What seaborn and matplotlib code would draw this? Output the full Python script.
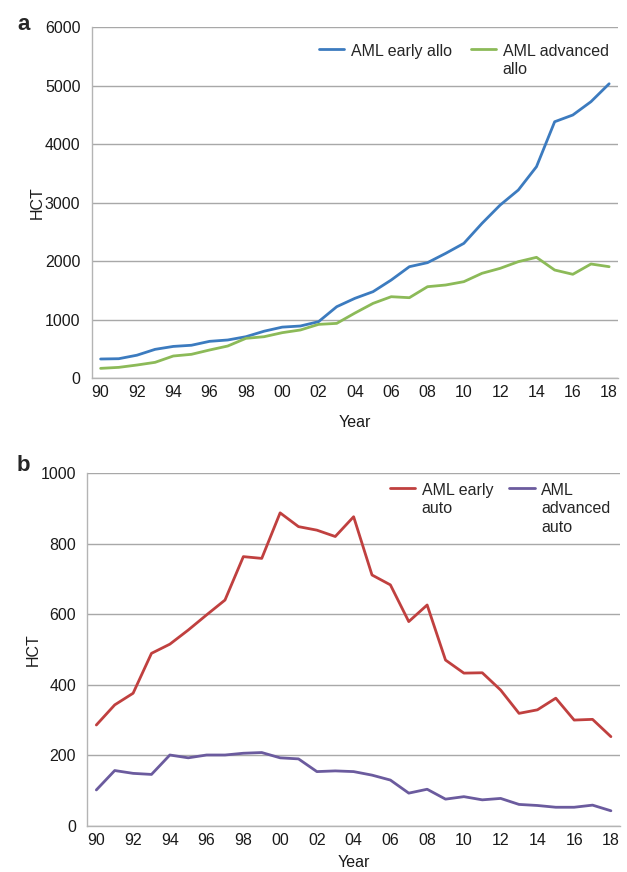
import pandas as pd
import matplotlib.pyplot as plt
import seaborn as sns
from matplotlib.ticker import FixedLocator

years = list(range(1990, 2019))
tick_years = list(range(1990, 2019, 2))
tick_labels = ['90', '92', '94', '96', '98', '00', '02', '04', '06', '08',
               '10', '12', '14', '16', '18']

# panel a - allogeneic
early_allo = [325, 330, 390, 490, 540, 560, 627, 650, 706, 800, 870, 889, 963, 1219,
              1362, 1476, 1675, 1903, 1972, 2131, 2302, 2644, 2957, 3214, 3613,
              4381, 4496, 4724, 5030]
advanced_allo = [165, 182, 222, 268, 376, 405, 479, 547, 678, 706, 775, 821, 917, 934,
                 1110, 1276, 1390, 1373, 1561, 1590, 1647, 1790, 1875, 1989, 2063,
                 1846, 1773, 1949, 1903]

# panel b - autologous
early_auto = [286, 343, 376, 489, 515, 555, 598, 640, 763, 758, 887, 848, 838, 820,
              876, 711, 683, 579, 626, 470, 433, 434, 385, 319, 329, 362, 300, 302, 253]
advanced_auto = [102, 157, 149, 146, 201, 193, 201, 201, 206, 208, 193, 190, 154, 156,
                 154, 144, 130, 93, 104, 76, 83, 74, 78, 61, 58, 53, 53, 59, 43]

sns.set_style('white')
plt.rcParams['font.family'] = ['Liberation Sans', 'DejaVu Sans']

fs = 11.5
fig = plt.figure(figsize=(6.27, 8.72), dpi=100)
ax1 = fig.add_axes([0.146, 0.5665, 0.840, 0.4025])
ax2 = fig.add_axes([0.139, 0.0528, 0.850, 0.4048])

grid_c = '#a8a8a8'
spine_c = '#b4b4b4'


def style_axis(ax, ymax, ystep):
    ax.set_xlim(1989.5, 2018.5)
    ax.set_ylim(0, ymax)
    ax.set_yticks(range(0, ymax + 1, ystep))
    ax.set_xticks(tick_years)
    ax.set_xticklabels(tick_labels)
    ax.xaxis.set_minor_locator(FixedLocator([y - 0.5 for y in years] + [2018.5]))
    ax.tick_params(axis='x', which='major', length=0, pad=5, labelsize=fs, colors='#1a1a1a')
    ax.tick_params(axis='x', which='minor', length=4, width=0.8, color=spine_c, direction='out')
    ax.tick_params(axis='y', length=4, width=0.8, color=spine_c, direction='out',
                   labelsize=fs, labelcolor='#1a1a1a', pad=4)
    ax.grid(axis='y', color=grid_c, linewidth=1)
    ax.grid(axis='x', visible=False)
    for side in ['top', 'right']:
        ax.spines[side].set_visible(False)
    for side in ['left', 'bottom']:
        ax.spines[side].set_color(spine_c)
        ax.spines[side].set_linewidth(1)
    ax.set_ylabel('HCT', fontsize=fs, color='#1a1a1a')
    ax.set_xlabel('Year', fontsize=fs, color='#1a1a1a')


def top_legend(ax, colspace, anchor_y):
    leg = ax.legend(loc='upper right', ncol=2, frameon=False, fontsize=fs,
                    handlelength=1.6, handletextpad=0.4, columnspacing=colspace,
                    bbox_to_anchor=(1.0, anchor_y), borderaxespad=0.2)
    for t in leg.get_texts():
        t.set_linespacing(1.3)
    # align entries at their first line, as in the original
    box = leg._legend_handle_box
    box.align = 'top'
    for col in box.get_children():
        for item in col.get_children():
            item.align = 'top'
    return leg


df_a = pd.DataFrame({'year': years, 'AML early allo': early_allo,
                     'AML advanced\nallo': advanced_allo})
df_b = pd.DataFrame({'year': years, 'AML early\nauto': early_auto,
                     'AML\nadvanced\nauto': advanced_auto})

sns.lineplot(data=df_a, x='year', y='AML early allo', ax=ax1, color='#3c7bbf',
             linewidth=2.0, label='AML early allo')
sns.lineplot(data=df_a, x='year', y='AML advanced\nallo', ax=ax1, color='#8cba58',
             linewidth=2.0, label='AML advanced\nallo')
style_axis(ax1, 6000, 1000)
ax1.yaxis.labelpad = 0
ax1.xaxis.labelpad = 11
top_legend(ax1, 1.2, 0.98)

sns.lineplot(data=df_b, x='year', y='AML early\nauto', ax=ax2, color='#c0403f',
             linewidth=2.0, label='AML early\nauto')
sns.lineplot(data=df_b, x='year', y='AML\nadvanced\nauto', ax=ax2, color='#6b5b9e',
             linewidth=2.0, label='AML\nadvanced\nauto')
style_axis(ax2, 1000, 200)
ax2.yaxis.labelpad = 0
ax2.xaxis.labelpad = 5
top_legend(ax2, 1.0, 1.0)

for line in ax1.get_lines() + ax2.get_lines():
    line.set_solid_joinstyle('round')
    line.set_solid_capstyle('round')

fig.text(0.027, 0.972, 'a', fontsize=16, fontweight='bold', va='center')
fig.text(0.027, 0.4665, 'b', fontsize=16, fontweight='bold', va='center')

fig.savefig('out.png', dpi=100)
